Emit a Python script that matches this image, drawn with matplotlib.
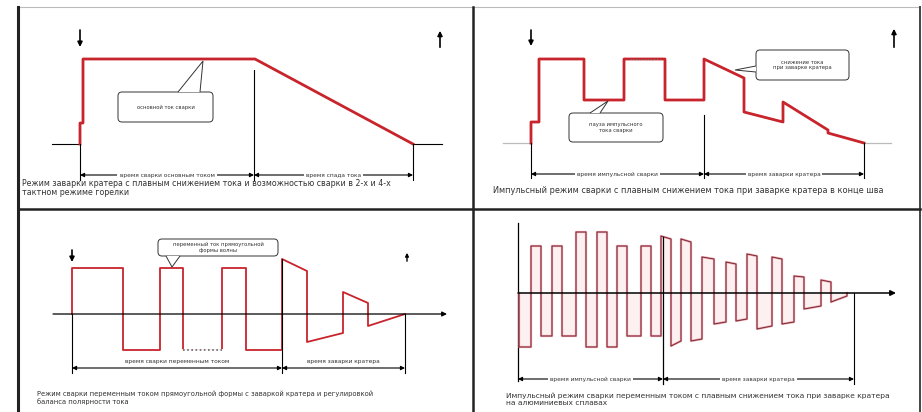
import matplotlib.pyplot as plt
from matplotlib.patches import FancyBboxPatch, Polygon

# --- данные (время по горизонтали, ток вверх от базовой линии) ---
# панель 1: плавное снижение тока
p1_t = [0, 0, 3, 3, 175, 333]
p1_i = [0, 21, 21, 85, 85, 0]

# панель 2: импульсный режим с заваркой кратера
p2_t = [0, 0, 8, 8, 53, 53, 93, 93, 134, 134, 173, 173, 213, 213, 252, 252, 297, 297, 333]
p2_i = [0, 21, 21, 84, 84, 43, 43, 84, 84, 43, 43, 84, 65, 31, 21, 41, 13, 10, 0]

# панель 3: переменный ток прямоугольной формы
p3_t = [0, 0, 51, 51, 88, 88, 111, 111, 150, 150, 174, 174, 210, 210, 235, 235, 271, 271, 296, 296, 333]
p3_i = [0, 46, 46, -36, -36, 46, 46, -36, -36, 46, 46, -36, -36, 55, 43, -28, -19, 22, 11, -12, 0]

# панель 4: импульсный переменный ток
p4_edges = [1, 13, 23, 34, 44, 58, 68, 79, 89, 99, 109, 123, 133, 143, 153,
            163, 173, 184, 196, 208, 218, 229, 239, 254, 264, 276, 286, 303, 313, 329]
p4_start = [-54, 47, -43, 47, -43, 61, -54, 61, -54, 47, -43, 47, -43, 57, -53,
            54, -48, 36, -31, 31, -28, 39, -36, 36, -31, 17, -16, 13, -9]
p4_end = [-54, 47, -43, 47, -43, 61, -54, 61, -54, 47, -43, 47, -43, 54, -48,
          51, -46, 34, -29, 29, -26, 37, -33, 34, -29, 16, -13, 11, -3]

RED = '#c8242c'
TXT = '#333333'

fig = plt.figure(figsize=(9.22, 4.12), dpi=100)
ax = fig.add_axes([0, 0, 1, 1])
ax.set_xlim(0, 922)
ax.set_ylim(412, 0)
ax.axis('off')


def dim(x1, x2, y, label):
    ax.annotate('', xy=(x1, y), xytext=(x2, y),
                arrowprops=dict(arrowstyle='<|-|>', color='black', lw=0.8,
                                mutation_scale=6, shrinkA=0, shrinkB=0))
    if label:
        ax.text((x1 + x2) / 2, y, label, fontsize=4.2, color=TXT, ha='center', va='center',
                bbox=dict(facecolor='white', edgecolor='none', pad=1.5))


def arrow(x, y1, y2):
    ax.annotate('', xy=(x, y2), xytext=(x, y1),
                arrowprops=dict(arrowstyle='-|>', color='black', lw=1.2,
                                mutation_scale=7, shrinkA=0, shrinkB=0))


def callout(x, y, w, h, label, tail):
    ax.add_patch(FancyBboxPatch((x, y), w, h, boxstyle='round,pad=0,rounding_size=4',
                                facecolor='white', edgecolor='#333333', lw=0.7, zorder=4))
    ax.add_patch(Polygon(tail, closed=False, facecolor='white', edgecolor='#333333',
                         lw=0.7, zorder=5))
    ax.text(x + w / 2, y + h / 2, label, fontsize=3.8, color=TXT, ha='center',
            va='center', zorder=6, linespacing=1.1)


# --- рамка ---
ax.plot([18, 920], [7, 7], color='#bbbbbb', lw=0.8)
ax.plot([18, 18], [7, 412], color='#222222', lw=2.2)
ax.plot([473, 473], [7, 412], color='#222222', lw=1.8)
ax.plot([920, 920], [7, 412], color='#444444', lw=1.4)
ax.plot([18, 920], [209, 209], color='#222222', lw=1.8)

# --- панель 1 ---
x0, y0 = 80, 144
ax.plot([52, 80], [y0, y0], color='black', lw=0.8)
ax.plot([x0 + 333, 442], [y0, y0], color='black', lw=0.8)
ax.plot([x0 + t for t in p1_t], [y0 - i for i in p1_i], color=RED, lw=2)
ax.plot([254, 254], [70, 180], color='black', lw=0.8)
ax.plot([80, 80], [144, 180], color='black', lw=0.8)
ax.plot([413, 413], [144, 180], color='black', lw=0.8)
dim(80, 254, 175, 'время сварки основным током')
dim(254, 413, 175, 'время спада тока')
arrow(80, 30, 47)
ax.annotate('', xy=(440, 28), xytext=(440, 50),
            arrowprops=dict(arrowstyle='-|>', color='black', lw=1.2, mutation_scale=7))
callout(118, 92, 95, 30, 'основной ток сварки',
        [(178, 92), (203, 61), (200, 92)])
ax.text(22, 183, 'Режим заварки кратера с плавным снижением тока и возможностью сварки в 2-х и 4-х',
        fontsize=5.7, color=TXT, va='center')
ax.text(22, 192, 'тактном режиме горелки', fontsize=5.7, color=TXT, va='center')

# --- панель 2 ---
x0, y0 = 531, 143
ax.plot([503, 531], [y0, y0], color='#bbbbbb', lw=0.9)
ax.plot([864, 891], [y0, y0], color='#bbbbbb', lw=0.9)
ax.plot([x0 + t for t in p2_t], [y0 - i for i in p2_i], color=RED, lw=2)
ax.plot([704, 704], [115, 178], color='black', lw=0.8)
ax.plot([531, 531], [143, 178], color='black', lw=0.8)
ax.plot([864, 864], [143, 178], color='black', lw=0.8)
dim(531, 704, 174, 'время импульсной сварки')
dim(704, 864, 174, 'время заварки кратера')
arrow(531, 30, 46)
ax.annotate('', xy=(894, 26), xytext=(894, 50),
            arrowprops=dict(arrowstyle='-|>', color='black', lw=1.2, mutation_scale=7))
callout(569, 113, 94, 29, 'пауза импульсного\nтока сварки', [(590, 113), (608, 101), (600, 113)])
callout(756, 50, 93, 30, 'снижение тока\nпри заварке кратера', [(756, 66), (735, 70), (756, 72)])
ax.plot([630, 660], [59, 59], color='#777777', lw=0.8, ls=':')
ax.text(493, 190, 'Импульсный режим сварки с плавным снижением тока при заварке кратера в конце шва',
        fontsize=5.9, color=TXT, va='center')

# --- панель 3 ---
x0, y0 = 72, 314
ax.annotate('', xy=(447, y0), xytext=(53, y0),
            arrowprops=dict(arrowstyle='-|>', color='black', lw=0.9, mutation_scale=7,
                            shrinkA=0, shrinkB=0))
ax.plot([x0 + t for t in p3_t], [y0 - i for i in p3_i], color=RED, lw=1.3)
ax.plot([183, 222], [350, 350], color='white', lw=2)
ax.plot([183, 222], [350, 350], color='#666666', lw=1.2, ls=(0, (1, 1.5)))
ax.plot([72, 72], [314, 373], color='black', lw=0.8)
ax.plot([282, 282], [259, 373], color='black', lw=0.8)
ax.plot([405, 405], [314, 373], color='black', lw=0.8)
dim(72, 282, 368, '')
dim(282, 405, 368, '')
ax.text(177, 361, 'время сварки переменным током', fontsize=4.2, color=TXT, ha='center', va='center')
ax.text(343, 361, 'время заварки кратера', fontsize=4.2, color=TXT, ha='center', va='center')
arrow(72, 250, 262)
ax.annotate('', xy=(407, 250), xytext=(407, 264),
            arrowprops=dict(arrowstyle='-|>', color='black', lw=1.0, mutation_scale=5))
callout(158, 239, 120, 17, 'переменный ток прямоугольной\nформы волны',
        [(166, 256), (172, 267), (180, 256)])
ax.text(37, 394, 'Режим сварки переменным током прямоугольной формы с заваркой кратера и регулировкой',
        fontsize=4.9, color=TXT, va='center')
ax.text(37, 402, 'баланса полярности тока', fontsize=4.9, color=TXT, va='center')

# --- панель 4 ---
x0, y0 = 518, 293
ax.annotate('', xy=(896, y0), xytext=(518, y0),
            arrowprops=dict(arrowstyle='-|>', color='black', lw=1.1, mutation_scale=8,
                            shrinkA=0, shrinkB=0))
ax.plot([518, 518], [223, 381], color='black', lw=0.9)
xs, ys = [x0 + p4_edges[0]], [y0]
for k in range(len(p4_start)):
    xs += [x0 + p4_edges[k], x0 + p4_edges[k + 1]]
    ys += [y0 - p4_start[k], y0 - p4_end[k]]
    ax.fill_between([x0 + p4_edges[k], x0 + p4_edges[k + 1]], y0,
                    [y0 - p4_start[k], y0 - p4_end[k]], color='#fdf0f1', lw=0)
xs.append(x0 + p4_edges[-1])
ys.append(y0)
ax.plot(xs, ys, color='#e07080', lw=1.6, alpha=0.7)
ax.plot(xs, ys, color='#6a2028', lw=0.6)
ax.plot([663, 663], [237, 384], color='black', lw=0.9)
ax.plot([854, 854], [293, 384], color='black', lw=0.8)
dim(518, 663, 379, 'время импульсной сварки')
dim(663, 854, 379, 'время заварки кратера')
ax.text(506, 396, 'Импульсный режим сварки переменным током с плавным снижением тока при заварке кратера',
        fontsize=5.4, color=TXT, va='center')
ax.text(506, 403, 'на алюминиевых сплавах', fontsize=5.4, color=TXT, va='center')

fig.savefig('out.png', dpi=100)
